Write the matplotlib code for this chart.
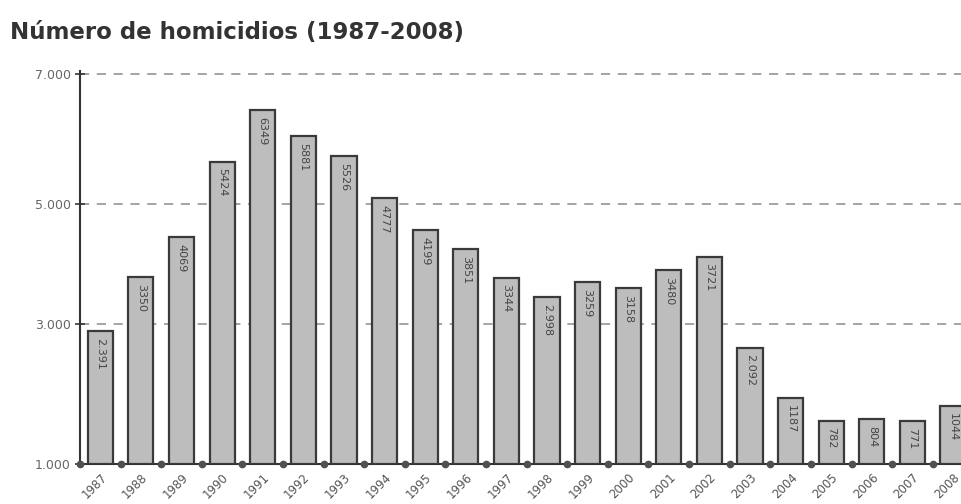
import matplotlib
matplotlib.use("Agg")
import matplotlib.pyplot as plt
import numpy as np

# datos
years = ['1987', '1988', '1989', '1990', '1991', '1992', '1993', '1994', '1995', '1996', '1997',
         '1998', '1999', '2000', '2001', '2002', '2003', '2004', '2005', '2006', '2007', '2008']
homicidios = [2391, 3350, 4069, 5424, 6349, 5881, 5526, 4777, 4199, 3851, 3344,
              2998, 3259, 3158, 3480, 3721, 2092, 1187, 782, 804, 771, 1044]
etiquetas = ['2.391', '3350', '4069', '5424', '6349', '5881', '5526', '4777', '4199', '3851', '3344',
             '2.998', '3259', '3158', '3480', '3721', '2.092', '1187', '782', '804', '771', '1044']
# el eje original esta mal rotulado: las marcas no caen en sus valores
ytick_vals = [0, 2513, 4668, 7000]
ytick_lbls = ['1.000', '3.000', '5.000', '7.000']

fig = plt.figure(figsize=(9.61, 5.04), dpi=100)
ax = fig.add_axes([0.0832, 0.079, 0.917, 0.78])

x = np.arange(len(years))
ax.bar(x, homicidios, width=0.62, color='#bdbdbd', edgecolor='#3a3a3a', linewidth=1.6, zorder=3)

for i in range(len(x)):
    ax.text(x[i], homicidios[i] - 120, etiquetas[i], rotation=-90, ha='center', va='top',
            fontsize=8, color='#454545', zorder=4)

# puntos entre barras sobre la linea base
ax.plot(np.arange(len(years)) - 0.5, [0] * len(years), 'o', color='#505050', ms=4.5,
        clip_on=False, zorder=5)

ax.set_xlim(-0.5, 21.2)
ax.set_ylim(0, 7050)
ax.set_yticks(ytick_vals)
ax.set_yticklabels(ytick_lbls, fontsize=9, color='#666666')
ax.set_xticks(x)
ax.set_xticklabels(years, rotation=45, ha='right', rotation_mode='anchor', fontsize=8.5, color='#555555')
ax.tick_params(axis='x', length=0, pad=5)
ax.tick_params(axis='y', direction='inout', length=7, width=1.2, color='#333333', pad=3)

for v in ytick_vals[1:]:
    ax.axhline(v, color='#8c8c8c', lw=1.1, ls=(0, (6, 5)), zorder=1)

ax.spines['top'].set_visible(False)
ax.spines['right'].set_visible(False)
ax.spines['left'].set_color('#333333')
ax.spines['left'].set_linewidth(1.5)
ax.spines['bottom'].set_color('#333333')
ax.spines['bottom'].set_linewidth(1.5)

fig.text(0.0104, 1 - 33 / 504, 'Número de homicidios (1987-2008)', fontsize=16.5, fontweight='semibold',
         color='#333333', va='center', ha='left')

fig.savefig('out.png', dpi=100)
